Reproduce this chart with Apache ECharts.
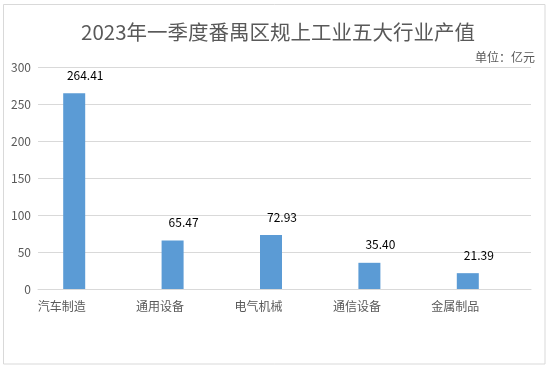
<!DOCTYPE html>
<html>
<head>
<meta charset="utf-8">
<script src="https://cdn.jsdelivr.net/npm/echarts@6/dist/echarts.min.js"></script>
<style>html,body{margin:0;padding:0;background:#fff;}#c{width:550px;height:370px;}</style>
</head>
<body>
<div id="c"></div>
<script>
const titleText = '2023年一季度番禺区规上工业五大行业产值';
const unitText = '单位：亿元';
const categories = ['汽车制造', '通用设备', '电气机械', '通信设备', '金属制品'];
const values = [264.41, 65.47, 72.93, 35.40, 21.39];
const yMin = 0, yMax = 300, yInterval = 50;

const chart = echarts.init(document.getElementById('c'), null, {renderer: 'canvas'});
const font = '"Noto Sans CJK SC", "Liberation Sans", sans-serif';
chart.setOption({
  animation: false,
  backgroundColor: '#fff',
  textStyle: {fontFamily: font},
  title: {
    text: titleText,
    left: 76,
    top: 17,
    textStyle: {fontSize: 20.5, fontWeight: 'normal', color: '#595959', fontFamily: font}
  },
  graphic: [
    {type: 'rect', shape: {x: 3.5, y: 4.5, width: 541.5, height: 359.5}, style: {fill: 'none', stroke: '#d9d9d9', lineWidth: 1}, silent: true},
    {type: 'text', right: 15, top: 51, style: {text: unitText, fontSize: 12, fill: '#595959', fontFamily: font}}
  ],
  grid: [
    {left: 38, right: 19, top: 67, bottom: 81},
    {left: 25, right: 33, top: 67, bottom: 81}
  ],
  xAxis: [
    {gridIndex: 0, type: 'category', data: categories,
     axisLine: {show: true, lineStyle: {color: '#d9d9d9'}}, axisTick: {show: false}, axisLabel: {show: false}},
    {gridIndex: 1, type: 'category', data: categories,
     axisLine: {show: false}, axisTick: {show: false},
     axisLabel: {show: true, color: '#595959', fontSize: 12, margin: 11, padding: [0, 25, 0, 0], fontFamily: font}}
  ],
  yAxis: [
    {gridIndex: 0, type: 'value', min: yMin, max: yMax, interval: yInterval,
     axisLine: {show: false}, axisTick: {show: false},
     axisLabel: {color: '#595959', fontSize: 12, margin: 7, fontFamily: font},
     splitLine: {show: true, lineStyle: {color: '#d9d9d9'}}},
    {gridIndex: 1, type: 'value', min: yMin, max: yMax, interval: yInterval, show: false,
     splitLine: {show: false}}
  ],
  series: [{
    type: 'bar',
    xAxisIndex: 1, yAxisIndex: 1,
    data: values,
    barWidth: 22,
    itemStyle: {color: '#5b9bd5'},
    label: {
      show: true, position: 'top', offset: [11, -7],
      color: '#000', fontSize: 12, fontFamily: font,
      formatter: p => p.value.toFixed(2)
    }
  }]
});
</script>
</body>
</html>
